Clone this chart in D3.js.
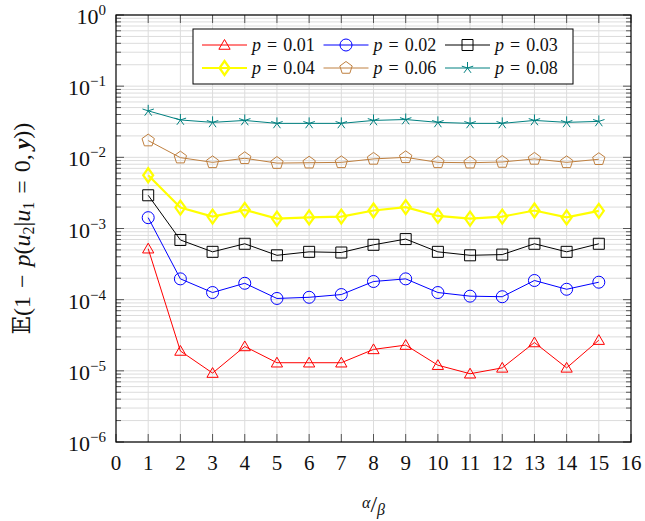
<html>
<head>
<script src="https://d3js.org/d3.v7.min.js"></script>
<style>
  body { margin: 0; background: white; }
  text { font-family: "Liberation Serif", "DejaVu Serif", serif; fill: #111; }
</style>
</head>
<body>
<script>
// values (alpha/beta on x, log y)
var alphaBeta = [1,2,3,4,5,6,7,8,9,10,11,12,13,14,15];
var p001 = [5.2e-4,1.9e-5,9.3e-6,2.2e-5,1.3e-5,1.3e-5,1.3e-5,2.0e-5,2.3e-5,1.2e-5,9.1e-6,1.1e-5,2.5e-5,1.1e-5,2.7e-5];
var p002 = [1.42e-3,1.96e-4,1.26e-4,1.7e-4,1.04e-4,1.08e-4,1.18e-4,1.8e-4,1.96e-4,1.26e-4,1.12e-4,1.1e-4,1.86e-4,1.4e-4,1.76e-4];
var p003 = [2.93e-3,6.9e-4,4.7e-4,6.1e-4,4.2e-4,4.7e-4,4.6e-4,5.9e-4,7.1e-4,4.7e-4,4.2e-4,4.3e-4,6.1e-4,4.7e-4,6.1e-4];
var p004 = [5.6e-3,1.97e-3,1.47e-3,1.83e-3,1.38e-3,1.43e-3,1.47e-3,1.79e-3,2.0e-3,1.5e-3,1.38e-3,1.47e-3,1.79e-3,1.43e-3,1.77e-3];
var p006 = [1.72e-2,9.9e-3,8.5e-3,9.7e-3,8.3e-3,8.4e-3,8.5e-3,9.5e-3,1.0e-2,8.5e-3,8.4e-3,8.6e-3,9.5e-3,8.5e-3,9.4e-3];
var p008 = [4.5e-2,3.35e-2,3.1e-2,3.3e-2,3.0e-2,3.0e-2,3.0e-2,3.3e-2,3.4e-2,3.1e-2,3.0e-2,3.0e-2,3.3e-2,3.1e-2,3.2e-2];
var seriesNames = ["0.01","0.02","0.03","0.04","0.06","0.08"];
var xTicks = d3.range(0, 17);
var yExponents = [0,-1,-2,-3,-4,-5,-6];

var series = [
  {name: seriesNames[0], values: p001, color: "#ff0000", width: 1, mark: "triangle"},
  {name: seriesNames[1], values: p002, color: "#0000ff", width: 1, mark: "circle"},
  {name: seriesNames[2], values: p003, color: "#000000", width: 1, mark: "square"},
  {name: seriesNames[3], values: p004, color: "#ffff00", width: 2.2, mark: "diamond"},
  {name: seriesNames[4], values: p006, color: "#bf8040", width: 1, mark: "pentagon"},
  {name: seriesNames[5], values: p008, color: "#008080", width: 1, mark: "star"}
];

var width = 645, height = 521;
var pLeft = 116, pRight = 631, pTop = 15, pBottom = 442;

var svg = d3.select("body").append("svg")
  .attr("width", width).attr("height", height);

var x = d3.scaleLinear().domain([0, 16]).range([pLeft, pRight]);
var y = d3.scaleLog().domain([1e-6, 1]).range([pBottom, pTop]);

// grid
var minorVals = [];
for (var e = -6; e < 0; e++) {
  for (var k = 2; k <= 9; k++) minorVals.push(k * Math.pow(10, e));
}
var grid = svg.append("g");
grid.selectAll(".gv").data(xTicks.slice(1, -1)).enter().append("line")
  .attr("x1", d => x(d)).attr("x2", d => x(d))
  .attr("y1", pTop).attr("y2", pBottom)
  .attr("stroke", "#dcdcdc").attr("stroke-width", 1);
grid.selectAll(".gh").data(minorVals.concat(yExponents.map(e => Math.pow(10, e)))).enter().append("line")
  .attr("x1", pLeft).attr("x2", pRight)
  .attr("y1", d => y(d)).attr("y2", d => y(d))
  .attr("stroke", "#dcdcdc").attr("stroke-width", 1);

// ticks (inside, on all four sides)
var ticks = svg.append("g").attr("stroke", "#555").attr("stroke-width", 1);
xTicks.forEach(function(t) {
  ticks.append("line").attr("x1", x(t)).attr("x2", x(t)).attr("y1", pBottom).attr("y2", pBottom - 8);
  ticks.append("line").attr("x1", x(t)).attr("x2", x(t)).attr("y1", pTop).attr("y2", pTop + 8);
});
yExponents.forEach(function(e) {
  var yy = y(Math.pow(10, e));
  ticks.append("line").attr("x1", pLeft).attr("x2", pLeft + 8).attr("y1", yy).attr("y2", yy);
  ticks.append("line").attr("x1", pRight).attr("x2", pRight - 8).attr("y1", yy).attr("y2", yy);
});
minorVals.forEach(function(v) {
  var yy = y(v);
  ticks.append("line").attr("x1", pLeft).attr("x2", pLeft + 5).attr("y1", yy).attr("y2", yy);
  ticks.append("line").attr("x1", pRight).attr("x2", pRight - 5).attr("y1", yy).attr("y2", yy);
});

// frame
svg.append("rect").attr("x", pLeft).attr("y", pTop)
  .attr("width", pRight - pLeft).attr("height", pBottom - pTop)
  .attr("fill", "none").attr("stroke", "#000").attr("stroke-width", 1.2);

// tick labels
svg.selectAll(".xl").data(xTicks).enter().append("text")
  .attr("x", d => x(d)).attr("y", 470)
  .attr("text-anchor", "middle").attr("font-size", 21)
  .text(d => d);

yExponents.forEach(function(e) {
  var t = svg.append("text")
    .attr("x", 106).attr("y", y(Math.pow(10, e)) + 9)
    .attr("text-anchor", "end").attr("font-size", 22);
  t.append("tspan").text("10");
  t.append("tspan").attr("dy", -9).attr("font-size", 15).text(e === 0 ? "0" : "\u2212" + (-e));
});

// axis labels
var xl = svg.append("text").attr("x", x(8)).attr("y", 512)
  .attr("text-anchor", "middle").attr("font-size", 17);
xl.append("tspan").attr("font-style", "italic").attr("font-size", 16).attr("dy", -4).text("\u03b1");
xl.append("tspan").attr("font-size", 24).attr("dy", 4).text("/");
xl.append("tspan").attr("font-style", "italic").attr("font-size", 16).attr("dy", 3).text("\u03b2");

var yl = svg.append("text")
  .attr("transform", "translate(30," + ((pTop + pBottom) / 2) + ") rotate(-90)")
  .attr("text-anchor", "middle").attr("font-size", 24)
  .attr("xml:space", "preserve");
yl.append("tspan").text("\ud835\udd3c(1\u2004\u2212\u2004");
yl.append("tspan").attr("font-style", "italic").text("p");
yl.append("tspan").text("(");
yl.append("tspan").attr("font-style", "italic").text("u");
yl.append("tspan").attr("font-size", 16).attr("dy", 4).text("2");
yl.append("tspan").attr("dy", -4).text("|");
yl.append("tspan").attr("font-style", "italic").text("u");
yl.append("tspan").attr("font-size", 16).attr("dy", 4).text("1");
yl.append("tspan").attr("dy", -4).text("\u2004=\u20040,\u2009");
yl.append("tspan").attr("font-style", "italic").attr("font-weight", "bold").text("y");
yl.append("tspan").text("))");

// marker shapes
function markPath(type) {
  var r = 6.5, pts = [], i, a;
  if (type === "circle") return null;
  if (type === "triangle") {
    for (i = 0; i < 3; i++) { a = -Math.PI / 2 + i * 2 * Math.PI / 3; pts.push([r * Math.cos(a), r * Math.sin(a) + 1]); }
  } else if (type === "square") {
    pts = [[-5.5,-5.5],[5.5,-5.5],[5.5,5.5],[-5.5,5.5]];
  } else if (type === "diamond") {
    pts = [[0,-7],[5,0],[0,7],[-5,0]];
  } else if (type === "pentagon") {
    for (i = 0; i < 5; i++) { a = -Math.PI / 2 + i * 2 * Math.PI / 5; pts.push([r * Math.cos(a), r * Math.sin(a)]); }
  } else if (type === "star") {
    var s = "";
    for (i = 0; i < 5; i++) { a = -Math.PI / 2 + i * 2 * Math.PI / 5; s += "M0,0L" + (6 * Math.cos(a)) + "," + (6 * Math.sin(a)); }
    return s;
  }
  return "M" + pts.map(p => p.join(",")).join("L") + "Z";
}
function drawMark(g, s, cx, cy) {
  if (s.mark === "circle") {
    g.append("circle").attr("cx", cx).attr("cy", cy).attr("r", 6)
      .attr("fill", "none").attr("stroke", s.color).attr("stroke-width", s.width);
  } else {
    g.append("path").attr("d", markPath(s.mark))
      .attr("transform", "translate(" + cx + "," + cy + ")")
      .attr("fill", "none").attr("stroke", s.color).attr("stroke-width", s.width);
  }
}

// series
var line = d3.line().x((d, i) => x(alphaBeta[i])).y(d => y(d));
series.forEach(function(s) {
  var g = svg.append("g");
  g.append("path").datum(s.values).attr("d", line)
    .attr("fill", "none").attr("stroke", s.color).attr("stroke-width", s.width);
  s.values.forEach(function(v, i) { drawMark(g, s, x(alphaBeta[i]), y(v)); });
});

// legend
var leg = svg.append("g");
leg.append("rect").attr("x", 193).attr("y", 29).attr("width", 380).attr("height", 55)
  .attr("fill", "white").attr("stroke", "#000").attr("stroke-width", 1);
series.forEach(function(s, i) {
  var col = i % 3, row = Math.floor(i / 3);
  var lx = 202 + col * 121.5, ly = 45 + row * 23;
  leg.append("line").attr("x1", lx).attr("x2", lx + 45).attr("y1", ly).attr("y2", ly)
    .attr("stroke", s.color).attr("stroke-width", s.width);
  drawMark(leg, s, lx + 22.5, ly);
  var t = leg.append("text").attr("x", lx + 50).attr("y", ly + 6).attr("font-size", 18)
    .attr("xml:space", "preserve");
  t.append("tspan").attr("font-style", "italic").text("p");
  t.append("tspan").text("\u2004=\u2004" + s.name);
});
</script>
</body>
</html>
